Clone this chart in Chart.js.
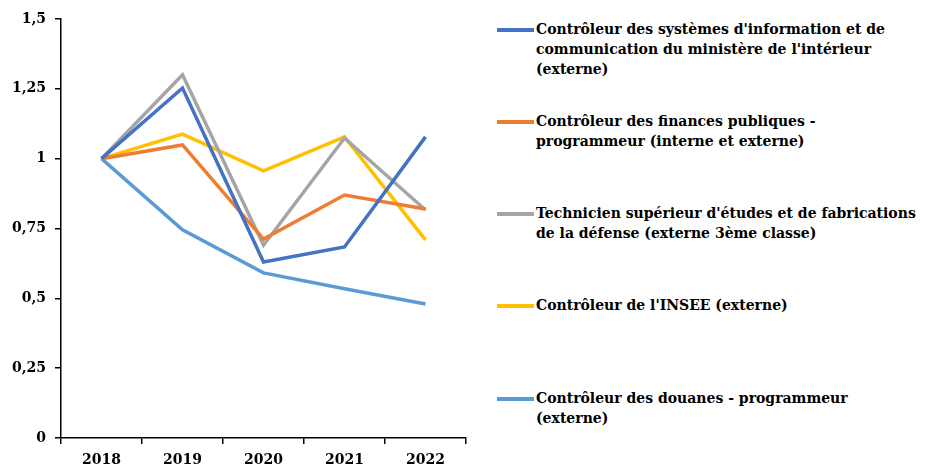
<!DOCTYPE html>
<html>
<head>
<meta charset="utf-8">
<script src="https://cdn.jsdelivr.net/npm/chart.js@4.4.1/dist/chart.umd.min.js"></script>
<style>
  body { margin: 0; background: #fff; }
  #wrap { position: relative; width: 925px; height: 469px; }
  #chartBox { position: absolute; left: 0; top: 0; width: 480px; height: 469px; }
  #legend { position: absolute; left: 497px; top: 0; width: 428px; font-family: "DejaVu Serif", serif; font-weight: bold; font-size: 14px; color: #000; }
  .item { position: absolute; left: 0; display: flex; align-items: flex-start; }
  .swatch { width: 37px; height: 4px; margin-top: 9px; flex: none; }
  .txt { margin-left: 2px; line-height: 20px; white-space: pre; }
</style>
</head>
<body>
<div id="wrap">
  <div id="chartBox"><canvas id="lineChart"></canvas></div>
  <div id="legend"></div>
</div>
<script>
var years = ["2018", "2019", "2020", "2021", "2022"];
var seriesNames = [
  "Contrôleur des systèmes d'information et de\ncommunication du ministère de l'intérieur\n(externe)",
  "Contrôleur des finances publiques -\nprogrammeur (interne et externe)",
  "Technicien supérieur d'études et de fabrications\nde la défense (externe 3ème classe)",
  "Contrôleur de l'INSEE (externe)",
  "Contrôleur des douanes - programmeur\n(externe)"
];
var sicInterieur = [1, 1.253, 0.63, 0.684, 1.078];
var financesPubliques = [1, 1.049, 0.712, 0.87, 0.82];
var technicienDefense = [1, 1.30, 0.69, 1.074, 0.816];
var insee = [1, 1.088, 0.956, 1.078, 0.709];
var douanes = [1, 0.745, 0.591, 0.534, 0.48];
var yTicks = [0, 0.25, 0.5, 0.75, 1, 1.25, 1.5];

var colors = ["#4472C4", "#ED7D31", "#A5A5A5", "#FFC000", "#5B9BD5"];
var values = [sicInterieur, financesPubliques, technicienDefense, insee, douanes];
var legendTops = [19, 111, 203, 295, 388];

var datasets = [];
for (var i in values) {
  datasets.push({
    label: seriesNames[i].replace(/\n/g, " "),
    data: values[i],
    borderColor: colors[i],
    backgroundColor: colors[i],
    borderWidth: 3.5,
    pointRadius: 0,
    tension: 0,
    fill: false
  });
}

var tickFont = { family: "DejaVu Serif", weight: "bold", size: 14 };

var CHART = document.getElementById("lineChart");
var lineChart = new Chart(CHART, {
  type: 'line',
  data: { labels: years, datasets: datasets },
  options: {
    responsive: true,
    maintainAspectRatio: false,
    animation: false,
    layout: { padding: { top: 19, right: 14, left: 0, bottom: 0 } },
    plugins: { legend: { display: false }, tooltip: { enabled: false } },
    scales: {
      x: {
        offset: true,
        grid: { offset: true, drawOnChartArea: false, drawTicks: true, tickLength: 6, color: "#000", lineWidth: 1.5 },
        border: { color: "#000", width: 1.5 },
        ticks: { color: "#000", font: tickFont, padding: 8 },
        afterFit: function(scale) { scale.height = 31; }
      },
      y: {
        min: 0,
        max: 1.5,
        afterBuildTicks: function(scale) {
          scale.ticks = yTicks.map(function(v) { return { value: v }; });
        },
        grid: { drawOnChartArea: false, drawTicks: true, tickLength: 6, color: "#000", lineWidth: 1.5 },
        border: { color: "#000", width: 1.5 },
        ticks: {
          color: "#000", font: tickFont, padding: 9,
          callback: function(v) { return String(v).replace(".", ","); }
        },
        afterFit: function(scale) { scale.width = 61; }
      }
    }
  }
});

var legend = document.getElementById("legend");
for (var j in seriesNames) {
  var item = document.createElement("div");
  item.className = "item";
  item.style.top = legendTops[j] + "px";
  var sw = document.createElement("div");
  sw.className = "swatch";
  sw.style.background = colors[j];
  var tx = document.createElement("div");
  tx.className = "txt";
  tx.textContent = seriesNames[j];
  item.appendChild(sw);
  item.appendChild(tx);
  legend.appendChild(item);
}
</script>
</body>
</html>
